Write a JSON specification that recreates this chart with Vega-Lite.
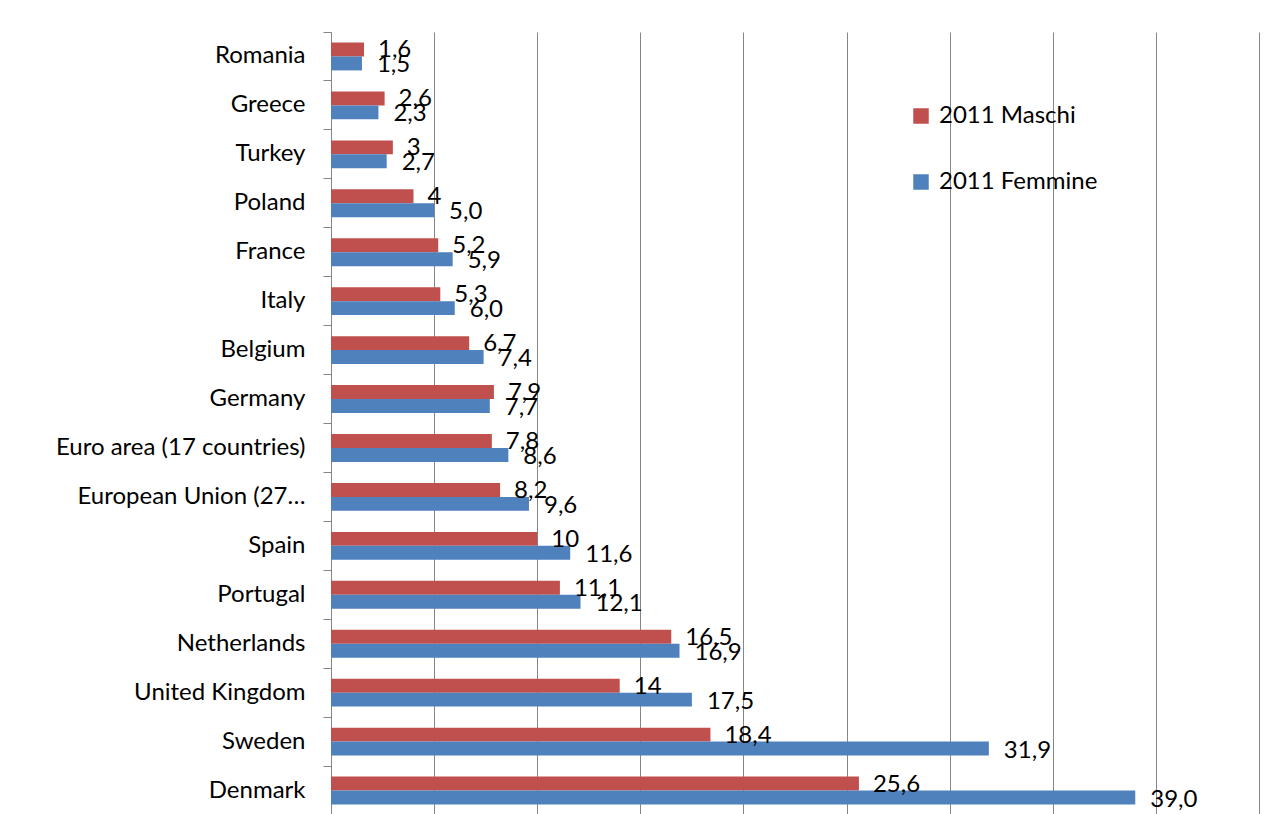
{
  "$schema": "https://vega.github.io/schema/vega-lite/v6.json",
  "autosize": {"type": "none"},
  "padding": {"left": 331, "top": 32, "right": 24, "bottom": 0},
  "width": 928,
  "height": 783,
  "background": "white",
  "config": {
    "locale": {"number": {"decimal": ",", "thousands": ".", "grouping": [3], "currency": ["", " €"]}},
    "view": {"stroke": null},
    "font": "Lato",
    "text": {"font": "Lato"}
  },
  "data": {
    "values": [
      {"country": "Romania", "series": "2011 Maschi", "value": 1.6},
      {"country": "Romania", "series": "2011 Femmine", "value": 1.5},
      {"country": "Greece", "series": "2011 Maschi", "value": 2.6},
      {"country": "Greece", "series": "2011 Femmine", "value": 2.3},
      {"country": "Turkey", "series": "2011 Maschi", "value": 3},
      {"country": "Turkey", "series": "2011 Femmine", "value": 2.7},
      {"country": "Poland", "series": "2011 Maschi", "value": 4},
      {"country": "Poland", "series": "2011 Femmine", "value": 5.0},
      {"country": "France", "series": "2011 Maschi", "value": 5.2},
      {"country": "France", "series": "2011 Femmine", "value": 5.9},
      {"country": "Italy", "series": "2011 Maschi", "value": 5.3},
      {"country": "Italy", "series": "2011 Femmine", "value": 6.0},
      {"country": "Belgium", "series": "2011 Maschi", "value": 6.7},
      {"country": "Belgium", "series": "2011 Femmine", "value": 7.4},
      {"country": "Germany", "series": "2011 Maschi", "value": 7.9},
      {"country": "Germany", "series": "2011 Femmine", "value": 7.7},
      {"country": "Euro area (17 countries)", "series": "2011 Maschi", "value": 7.8},
      {"country": "Euro area (17 countries)", "series": "2011 Femmine", "value": 8.6},
      {"country": "European Union (27 countries)", "series": "2011 Maschi", "value": 8.2},
      {"country": "European Union (27 countries)", "series": "2011 Femmine", "value": 9.6},
      {"country": "Spain", "series": "2011 Maschi", "value": 10},
      {"country": "Spain", "series": "2011 Femmine", "value": 11.6},
      {"country": "Portugal", "series": "2011 Maschi", "value": 11.1},
      {"country": "Portugal", "series": "2011 Femmine", "value": 12.1},
      {"country": "Netherlands", "series": "2011 Maschi", "value": 16.5},
      {"country": "Netherlands", "series": "2011 Femmine", "value": 16.9},
      {"country": "United Kingdom", "series": "2011 Maschi", "value": 14},
      {"country": "United Kingdom", "series": "2011 Femmine", "value": 17.5},
      {"country": "Sweden", "series": "2011 Maschi", "value": 18.4},
      {"country": "Sweden", "series": "2011 Femmine", "value": 31.9},
      {"country": "Denmark", "series": "2011 Maschi", "value": 25.6},
      {"country": "Denmark", "series": "2011 Femmine", "value": 39.0}
    ]
  },
  "encoding": {
    "y": {
      "field": "country",
      "type": "nominal",
      "sort": null,
      "scale": {"paddingInner": 0.43, "paddingOuter": 0.215},
      "axis": {
        "title": null,
        "domainColor": "#868686",
        "tickColor": "#868686",
        "tickSize": 8,
        "bandPosition": -0.377,
        "labelFontSize": 24,
        "labelColor": "#000000",
        "labelPadding": 18,
        "labelLimit": 300,
        "labelFont": "Lato",
        "labelExpr": "datum.label == 'European Union (27 countries)' ? 'European Union (27…' : datum.label"
      }
    },
    "x": {
      "field": "value",
      "type": "quantitative",
      "scale": {"domain": [0, 45], "nice": false},
      "axis": {
        "title": null,
        "values": [0, 5, 10, 15, 20, 25, 30, 35, 40, 45],
        "grid": true,
        "gridColor": "#868686",
        "gridOpacity": 1,
        "domain": false,
        "ticks": false,
        "labels": false
      }
    },
    "yOffset": {
      "field": "series",
      "type": "nominal",
      "sort": ["2011 Maschi", "2011 Femmine"],
      "scale": {"paddingInner": 0, "paddingOuter": 0}
    }
  },
  "layer": [
    {
      "mark": {"type": "bar"},
      "encoding": {
        "color": {
          "field": "series",
          "type": "nominal",
          "sort": ["2011 Maschi", "2011 Femmine"],
          "scale": {"domain": ["2011 Maschi", "2011 Femmine"], "range": ["#C0504D", "#4F81BD"]},
          "legend": {
            "title": null,
            "orient": "none",
            "legendX": 578,
            "legendY": 72,
            "symbolType": "square",
            "symbolSize": 240,
            "symbolStrokeWidth": 0,
            "labelFontSize": 24,
            "labelColor": "#000000",
            "labelFont": "Lato",
            "labelOffset": 6,
            "rowPadding": 42
          }
        }
      }
    },
    {
      "transform": [{"filter": "datum.series === '2011 Maschi'"}],
      "mark": {"type": "text", "align": "left", "baseline": "middle", "dx": 14, "dy": 1, "fontSize": 24, "color": "#000000"},
      "encoding": {"text": {"field": "value", "type": "quantitative", "format": "~g"}}
    },
    {
      "transform": [{"filter": "datum.series === '2011 Femmine'"}],
      "mark": {"type": "text", "align": "left", "baseline": "middle", "dx": 15, "dy": 2, "fontSize": 24, "color": "#000000"},
      "encoding": {"text": {"field": "value", "type": "quantitative", "format": ".1f"}}
    }
  ]
}
